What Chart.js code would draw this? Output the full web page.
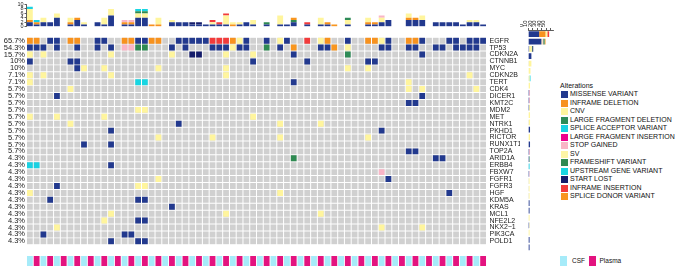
<!DOCTYPE html>
<html><head><meta charset="utf-8">
<script src="https://cdn.jsdelivr.net/npm/chart.js@4.4.1/dist/chart.umd.min.js"></script>
<style>
html,body{margin:0;padding:0;background:#fff}
body{width:676px;height:268px;position:relative;overflow:hidden;font-family:"Liberation Sans",Arial,sans-serif;color:#111}
canvas{position:absolute;display:block}
#leg{position:absolute;left:560px;top:80px;width:116px;height:130px;font-size:7px;line-height:8.5px}
#leg .ttl{position:absolute;left:0;top:0.5px;white-space:nowrap;line-height:9px}
#leg .it{position:absolute;left:0;height:8.5px;white-space:nowrap}
#leg .sw{position:absolute;left:1px;top:1px;width:6.5px;height:6.6px}
#leg .tx{position:absolute;left:10px;top:0}
#leg2{position:absolute;left:560px;top:255px;width:116px;height:12px;font-size:6.5px;line-height:10px}
#leg2 .sw{position:absolute;top:1px;width:6.5px;height:10px}
#leg2 .tx{position:absolute;top:1px;white-space:nowrap}
</style></head><body>
<canvas id="cTop" width="490" height="31" style="left:0;top:0"></canvas>
<canvas id="cHeat" width="520" height="222" style="left:0;top:30px"></canvas>
<canvas id="cAnn" width="490" height="14" style="left:0;top:254px"></canvas>
<canvas id="cRight" width="40" height="254" style="left:520px;top:0"></canvas>
<div id="leg"></div>
<div id="leg2"></div>
<script>
// ---------------- DATA ----------------
const genes = ["EGFR","TP53","CDKN2A","CTNNB1","MYC","CDKN2B","TERT","CDK4","DICER1","KMT2C","MDM2","MET","NTRK1","PKHD1","RICTOR","RUNX1T1","TOP2A","ARID1A","ERBB4","FBXW7","FGFR1","FGFR3","HGF","KDM5A","KRAS","MCL1","NFE2L2","NKX2\u22121","PIK3CA","POLD1"];
const genePct = ["65.7%","54.3%","15.7%","10%","10%","7.1%","7.1%","5.7%","5.7%","5.7%","5.7%","5.7%","5.7%","5.7%","5.7%","5.7%","5.7%","4.3%","4.3%","4.3%","4.3%","4.3%","4.3%","4.3%","4.3%","4.3%","4.3%","4.3%","4.3%","4.3%"];
const altTypes = ["MISSENSE VARIANT","INFRAME DELETION","CNV","LARGE FRAGMENT DELETION","SPLICE ACCEPTOR VARIANT","LARGE FRAGMENT INSERTION","STOP GAINED","SV","FRAMESHIFT VARIANT","UPSTREAM GENE VARIANT","START LOST","INFRAME INSERTION","SPLICE DONOR VARIANT"];
const altCodes = ["M","D","C","L","A","I","S","V","F","U","T","N","O"];
const altColors = ["#22398e","#f7921e","#fff59d","#2e8b57","#1ad1e2","#ec008c","#f9b5c6","#fdf5a6","#2f8a52","#18d6e2","#141c6b","#f23b3b","#f8961f"];
// sample type per column: C = CSF, P = Plasma
const sampleTypeCodes = "CPCPCPCPCPCPCPCPCPCPCPCPCPCPCPCPCPCPCPCPCPCPCPCPCPCPCPCPCPCPCPCPCPCP";
const sampleTypes = ["CSF","Plasma"];
const sampleColors = ["#a6ebf9","#e3137f"];
// alterations per gene: "column+code"
const cellCalls = [
 "0D 1D 3M 4M 6D 7D 10M 11M 14D 15D 16M 17M 18D 19D 22M 23M 24M 25M 26M 27N 28N 29N 30D 31C 32M 35M 37C 38M 41N 43C 44D 47M 50D 51D 52C 53M 56D 57D 58M 62M 63M 65M 66M 67M 68M 69M",
 "0M 1M 2M 4M 7M 10M 12M 14S 15S 16F 17F 21M 23M 27M 28M 29M 30C 31M 32M 35F 37M 39O 43M 44M 45O 47C 52M 53M 56M 57M 60M 61M 63M 64M 65M 66M 68M 69M",
 "0C 2C 12C 21C 24T 25T 29C 33C 39M 47L 58M",
 "0M 6M 7M 33M 41M 50M 51M",
 "7M 8C 11C 19C 29C 47C 50C",
 "0C 2C 12C 29C 65C",
 "0C 16U 17U 39M 56C",
 "6C 56C 58C 66C",
 "4M 58M 68S 69S",
 "56M 57M 68S 69S",
 "16C 17C 68M 69M",
 "0C 4C 11C 33C",
 "6C 22M 37C 43C",
 "12M 52M 68M 69M",
 "19C 27C 37C 50C",
 "8M 12M 68M 69M",
 "56M 57M 68S 69S",
 "39F 60M 61M",
 "0A 1A 12M",
 "52S 68M 69M",
 "19C 53M 68C",
 "4M 16C 17C",
 "0C 37C 62M",
 "3M 16M 17M",
 "21M 68M 69M",
 "12C 29C 43C",
 "11C 16M 17M",
 "4C 52C 58C",
 "2M 14M 15M",
 "12M 16M 17M"
];
const topTicks = [0,2,4,6,8,10];
const rightTicks = [0,10,20,30,40,50];

// ---------------- BUILD ----------------
const nCols = sampleTypeCodes.length;
const samples = sampleTypeCodes.split('').map((t,i)=>'S'+(i+1));
const cells = cellCalls.map(s => s.trim().split(/\s+/).map(t => ({col: parseInt(t,10), code: t.replace(/[0-9]/g,'')})));

Chart.defaults.font.family = '"Liberation Sans", Arial, sans-serif';
Chart.defaults.color = '#222';
Chart.defaults.animation = false;
Chart.defaults.devicePixelRatio = 1;

const GAP = 0.075;
const noPlug = {legend:{display:false}, tooltip:{enabled:false}};

// Heatmap: coloured cells first (drawn on top), grey background last (drawn underneath)
const heatSets = [];
altCodes.forEach((code,k) => {
  const d = [];
  cells.forEach((row,gi) => row.forEach(e => { if (e.code===code) d.push({x:[e.col+GAP, e.col+1-GAP], y:genes[gi]}); }));
  heatSets.push({label:altTypes[k], data:d, backgroundColor:altColors[k], order:0});
});
const bg = [];
genes.forEach(g => { for (let c=0;c<nCols;c++) bg.push({x:[c+GAP, c+1-GAP], y:g}); });
heatSets.push({label:'none', data:bg, backgroundColor:'#d0d0d0', order:1});
heatSets.forEach(ds => Object.assign(ds, {grouped:false, barPercentage:0.86, categoryPercentage:1, borderWidth:0, borderSkipped:false}));

new Chart(document.getElementById('cHeat'), {
  type:'bar',
  data:{labels:genes, datasets:heatSets},
  options:{
    indexAxis:'y', responsive:false, animation:false,
    layout:{padding:{top:0.5,bottom:1,left:0,right:0}},
    plugins:noPlug,
    scales:{
      x:{type:'linear', min:0, max:nCols, display:false},
      y:{type:'category', position:'left', offset:true,
         grid:{display:false, drawTicks:false}, border:{display:false},
         ticks:{callback:(v,i)=>genePct[i], font:{size:7.5}, color:'#222', padding:1.5, autoSkip:false},
         afterFit:s=>{s.width=26.5;}},
      y2:{type:'category', position:'right', labels:genes, offset:true, display:true,
         grid:{display:false, drawTicks:false}, border:{display:false},
         ticks:{font:{size:7}, color:'#222', padding:3, autoSkip:false},
         afterFit:s=>{s.width=33.5;}}
    }
  }
});

// Top stacked bars (alterations per sample)
const topSets = altCodes.map((code,k) => {
  const d = new Array(nCols).fill(0);
  cells.forEach(row => row.forEach(e => { if (e.code===code) d[e.col]++; }));
  return {label:altTypes[k], data:d, backgroundColor:altColors[k], barPercentage:0.86, categoryPercentage:1, borderWidth:0, stack:'s'};
});
new Chart(document.getElementById('cTop'), {
  type:'bar',
  data:{labels:samples, datasets:topSets},
  options:{
    responsive:false, animation:false,
    layout:{padding:{top:4.5,bottom:2,left:0,right:3.5}},
    plugins:noPlug,
    scales:{
      x:{stacked:true, display:false, offset:true},
      y:{stacked:true, min:0, max:10, position:'left',
         afterBuildTicks:s=>{s.ticks = topTicks.map(v=>({value:v}));},
         grid:{drawOnChartArea:false, drawTicks:true, tickLength:2, color:'#333', lineWidth:0.8},
         border:{display:true, color:'#333', width:0.8},
         ticks:{font:{size:5.5}, color:'#222', padding:1, autoSkip:false},
         afterFit:s=>{s.width=26.5;}}
    }
  }
});

// Sample annotation row
new Chart(document.getElementById('cAnn'), {
  type:'bar',
  data:{labels:samples, datasets:[{label:'Sample', data:samples.map(()=>1),
    backgroundColor:sampleTypeCodes.split('').map(t=>sampleColors[t==='C'?0:1]),
    barPercentage:0.86, categoryPercentage:1, borderWidth:0}]},
  options:{
    responsive:false, animation:false,
    layout:{padding:{top:2,bottom:2,left:26.5,right:3.5}},
    plugins:noPlug,
    scales:{x:{display:false, offset:true}, y:{display:false, min:0, max:1}}
  }
});

// Right stacked bars (alterations per gene)
const rightSets = altCodes.map((code,k) => {
  const d = genes.map((g,gi) => cells[gi].filter(e=>e.code===code).length);
  return {label:altTypes[k], data:d, backgroundColor:altColors[k], barPercentage:0.78, categoryPercentage:1, borderWidth:0, stack:'s'};
});
new Chart(document.getElementById('cRight'), {
  type:'bar',
  data:{labels:genes, datasets:rightSets},
  options:{
    indexAxis:'y', responsive:false, animation:false,
    layout:{padding:{top:0,bottom:3,left:5.7,right:6.3}},
    plugins:noPlug,
    scales:{
      y:{stacked:true, display:false, offset:true},
      x:{stacked:true, min:0, max:56, position:'top',
         afterBuildTicks:s=>{s.ticks = rightTicks.map(v=>({value:v}));},
         grid:{drawOnChartArea:false, drawTicks:true, tickLength:2.5, color:'#333', lineWidth:0.8},
         border:{display:true, color:'#333', width:0.8},
         ticks:{font:{size:6}, color:'#222', padding:1, minRotation:90, maxRotation:90, autoSkip:false},
         afterFit:s=>{s.height=30.5;}}
    }
  }
});

// Legends (HTML)
const leg = document.getElementById('leg');
leg.innerHTML = '<div class="ttl">Alterations</div>' + altTypes.map((t,i)=>
  '<div class="it" style="top:'+(10.45+i*8.5)+'px"><span class="sw" style="background:'+altColors[i]+'"></span><span class="tx">'+t+'</span></div>').join('');
const leg2 = document.getElementById('leg2');
leg2.innerHTML = '<span class="sw" style="left:0;background:'+sampleColors[0]+'"></span><span class="tx" style="left:12px">'+sampleTypes[0]+'</span>' +
  '<span class="sw" style="left:29px;background:'+sampleColors[1]+'"></span><span class="tx" style="left:39.5px">'+sampleTypes[1]+'</span>';
</script>
</body></html>
